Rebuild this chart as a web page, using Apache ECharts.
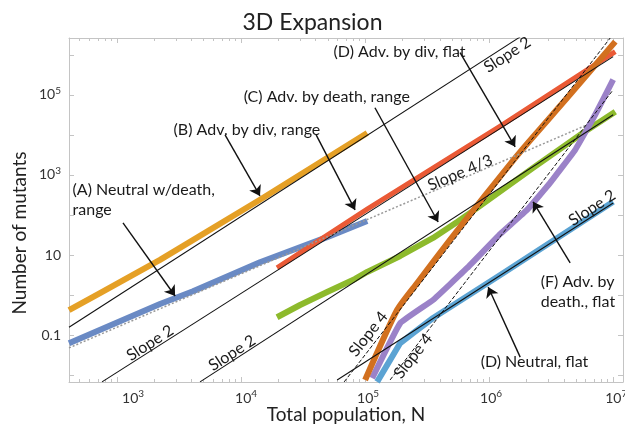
<!DOCTYPE html>
<html>
<head>
<meta charset="utf-8">
<script src="https://cdn.jsdelivr.net/npm/echarts@6/dist/echarts.min.js"></script>
<style>
  html, body { margin: 0; padding: 0; background: #fff; }
  #chart { width: 625px; height: 430px; }
</style>
</head>
<body>
<div id="chart"></div>
<script>
// Mutant counts vs. total population for 3D expansions (log-log)
const FONT = 'Lato, "Open Sans", sans-serif';

// Simulation curves: [total population N, number of mutants]
const advDivRange = [[410, 0.42], [729, 1.12], [2220, 7.6], [1.42e4, 240], [1.04e5, 1.12e4]];
const neutralDeathRange = [[410, 0.063], [2220, 0.6], [4100, 1.25], [1.42e4, 6.6], [4.94e4, 28], [1.04e5, 71]];
const advDivRange2 = [[1.95e4, 4.8], [1.04e5, 140], [1.23e6, 1.65e4], [1.04e7, 1.2e6]];
const advDeathRange = [[1.95e4, 0.28], [2.99e4, 0.566], [4.94e4, 1.2], [8.3e4, 2.53], [1.04e5, 3.78],
  [1.92e5, 9.5], [3.53e5, 26.8], [5.52e5, 67], [8.46e5, 169], [2.26e6, 1505], [5.73e6, 1.13e4], [1.04e7, 3.8e4]];
const advDivFlat = [[1.0e5, 0.0076], [1.81e5, 0.424], [2.63e5, 2.01], [4.84e5, 23.9], [8.95e5, 268],
  [1.78e6, 3780], [4.26e6, 8.46e4], [1.04e7, 2.13e6]];
const advDeathFlat = [[1.14e5, 0.00846], [1.92e5, 0.2], [3.53e5, 0.754], [6.65e5, 4.76], [1.23e6, 33.7],
  [2.02e6, 134], [3.10e6, 635], [4.94e6, 4240], [7.16e6, 3.18e4], [1.0e7, 2.39e5]];
const neutralFlat = [[1.25e5, 0.0068], [1.92e5, 0.0635], [2.44e5, 0.113], [3.53e5, 0.268], [1.23e6, 3.18], [1.0e7, 213]];

// Power-law guide lines (end points)
const slope2a = [[410, 0.158], [1.78e6, 2.8e6]];
const slope2b = [[757, 0.0068], [1.0e7, 9.0e5]];
const slope2c = [[4670, 0.0068], [1.0e7, 3.2e4]];
const slope2d = [[5.95e4, 0.0076], [1.0e7, 200]];
const slope43 = [[410, 0.048], [5.95e6, 1.7e4]];
const slope4a = [[6.78e4, 0.0068], [9.46e6, 2.63e6]];
const slope4b = [[1.59e5, 0.0076], [1.0e7, 1.34e5]];

// Axis ticks and labels
const xMajor = [1e3, 1e4, 1e5, 1e6, 1e7];
const xMajorExp = ['3', '4', '5', '6', '7'];
const yMajor = [0.01, 0.1, 1, 10, 1e2, 1e3, 1e4, 1e5, 1e6];
const yLabelValues = [0.1, 10, 1e3, 1e5];
const yLabelBase = ['0.1', '10', '10', '10'];
const yLabelExp = ['', '', '3', '5'];
const xMinor = [];
[100, 1e3, 1e4, 1e5, 1e6, 1e7].forEach(d => { for (let k = 2; k <= 9; k++) xMinor.push(d * k); });

// Annotation text: [N, mutants, text]
const notes = [
  [434, 424, '(A) Neutral w/death,'],
  [434, 134, 'range'],
  [2830, 1.34e4, '(B) Adv. by div, range'],
  [1.04e4, 8.97e4, '(C) Adv. by death, range'],
  [5.52e4, 1.2e6, '(D) Adv. by div, flat'],
  [2.58e6, 2.13, '(F) Adv. by'],
  [2.58e6, 0.672, 'death., flat'],
  [8.46e5, 0.0213, '(D) Neutral, flat']
];
// Guide-line captions: [N, mutants, text, rotation in degrees]
const slopeNotes = [
  [1.4e6, 1.0e6, 'Slope 2', 33],
  [5.83e5, 1128, 'Slope 4/3', 23],
  [1845, 0.0635, 'Slope 2', 33],
  [8460, 0.0357, 'Slope 2', 33],
  [1.06e5, 0.1066, 'Slope 4', 52],
  [2.44e5, 0.030, 'Slope 4', 52],
  [6.77e6, 150, 'Slope 2', 33]
];
// Arrows: [tail, head]
const arrows = [
  [[1117, 63.4], [2940, 0.95]],
  [[7430, 1.006e4], [1.42e4, 300]],
  [[4.03e4, 1.0e4], [8.3e4, 134]],
  [[1.2e5, 4.76e4], [3.88e5, 67]],
  [[5.83e5, 1.13e6], [1.62e6, 5040]],
  [[4.5e6, 6.35], [2.26e6, 213]],
  [[1.78e6, 0.0283], [9.82e5, 1.59]]
];

const X_MIN = 410, X_MAX = 1.2e7, Y_MIN = 0.00676, Y_MAX = 2.63e6;
const BORDER = '#c4c4c4';
const CLEAR = 'rgba(0,0,0,0)';
const INK = '#1a1a1a';
// horizontal nudge (px) of each x tick label
const xLabelNudge = [16, 5, 3, 2, 3];

function thick(name, data, color, width, smooth) {
  return { name, type: 'line', data, showSymbol: false, symbol: 'none', clip: true, z: 2,
    smooth: smooth || false,
    lineStyle: { color, width, cap: 'butt', join: 'round' }, emphasis: { disabled: true } };
}
function guide(name, data, type, color, width) {
  return { name, type: 'line', data, showSymbol: false, symbol: 'none', clip: true, z: 3,
    lineStyle: { color, width, type }, emphasis: { disabled: true } };
}

const supRich = {
  b: { fontSize: 14, color: '#333', fontFamily: FONT, lineHeight: 18 },
  s: { fontSize: 10, color: '#333', fontFamily: FONT, lineHeight: 10, verticalAlign: 'top' }
};
const xRich = Object.assign({}, supRich);
xLabelNudge.forEach((n, i) => {
  xRich['b' + i] = Object.assign({}, supRich.b, { padding: [0, 0, 0, 2 * n] });
});

const chart = echarts.init(document.getElementById('chart'), null, { renderer: 'canvas' });
const bare = { axisLine: { show: false }, splitLine: { show: false }, axisLabel: { show: false } };

chart.setOption({
  animation: false,
  backgroundColor: '#fff',
  title: { text: '3D Expansion', left: 'center', top: 6,
    textStyle: { fontFamily: FONT, fontSize: 23, fontWeight: 'normal', color: '#222' } },
  grid: { left: 69, right: 2, top: 38, bottom: 48, containLabel: false, outerBoundsMode: 'none' },
  xAxis: [
    { type: 'log', min: X_MIN, max: X_MAX, position: 'bottom',
      axisLine: { show: true, lineStyle: { color: BORDER, width: 1 } },
      axisTick: { show: true, inside: true, length: 5, customValues: xMajor, lineStyle: { color: BORDER } },
      axisLabel: { show: true, margin: 7, customValues: xMajor,
        formatter: v => { const i = xMajor.findIndex(t => Math.abs(t - v) / t < 1e-6);
          return '{b' + i + '|10}{s|' + xMajorExp[i] + '}'; },
        rich: xRich },
      splitLine: { show: false },
      name: 'Total population, N', nameLocation: 'middle', nameGap: 23, nameMoveOverlap: false,
      nameTextStyle: { fontFamily: FONT, fontSize: 19, color: '#222' } },
    Object.assign({ type: 'log', min: X_MIN, max: X_MAX, position: 'bottom',
      axisTick: { show: true, inside: true, length: 3, customValues: xMinor, lineStyle: { color: BORDER } } }, bare),
    { type: 'log', min: X_MIN, max: X_MAX, position: 'top',
      axisLine: { show: true, lineStyle: { color: BORDER } },
      axisTick: { show: true, inside: true, length: 5, customValues: xMajor, lineStyle: { color: BORDER } },
      axisLabel: { show: false }, splitLine: { show: false } },
    Object.assign({ type: 'log', min: X_MIN, max: X_MAX, position: 'top',
      axisTick: { show: true, inside: true, length: 3, customValues: xMinor, lineStyle: { color: BORDER } } }, bare)
  ],
  yAxis: [
    { type: 'log', min: Y_MIN, max: Y_MAX, position: 'left',
      axisLine: { show: true, lineStyle: { color: BORDER } },
      axisTick: { show: true, inside: true, length: 5, customValues: yMajor, lineStyle: { color: BORDER } },
      axisLabel: { show: true, margin: 8, customValues: yLabelValues,
        formatter: v => { const i = yLabelValues.findIndex(t => Math.abs(t - v) / t < 1e-6);
          return '{b|' + yLabelBase[i] + '}' + (yLabelExp[i] ? '{s|' + yLabelExp[i] + '}' : ''); },
        rich: supRich },
      splitLine: { show: false },
      name: 'Number of mutants', nameLocation: 'middle', nameGap: 40, nameMoveOverlap: false,
      nameTextStyle: { fontFamily: FONT, fontSize: 19, color: '#222', padding: [0, 46, 0, 0] } },
    { type: 'log', min: Y_MIN, max: Y_MAX, position: 'right',
      axisLine: { show: true, lineStyle: { color: BORDER } },
      axisTick: { show: true, inside: true, length: 5, customValues: yMajor, lineStyle: { color: BORDER } },
      axisLabel: { show: false }, splitLine: { show: false } }
  ],
  series: [
    thick('Adv. by div, range', advDivRange, '#E5A026', 6),
    thick('Neutral w/death, range', neutralDeathRange, '#6A8AC4', 6),
    thick('Adv. by div, range (late)', advDivRange2, '#EA5A36', 5),
    thick('Adv. by death, range', advDeathRange, '#8DBA2C', 6),
    thick('Adv. by death, flat', advDeathFlat, '#9B82C8', 6, 0.08),
    thick('Neutral, flat', neutralFlat, '#5BA3D3', 6),
    thick('Adv. by div, flat', advDivFlat, '#D2701F', 6, 0.2),
    guide('slope 2 a', slope2a, 'solid', '#111', 1.1),
    guide('slope 2 b', slope2b, 'solid', '#111', 1.1),
    guide('slope 2 c', slope2c, 'solid', '#111', 1.1),
    guide('slope 2 d', slope2d, 'solid', '#111', 1.1),
    guide('slope 4/3', slope43, [2, 2], '#999', 1.5),
    guide('slope 4 a', slope4a, [4, 2], '#111', 1),
    guide('slope 4 b', slope4b, [4, 2], '#111', 1),
    { name: 'notes', type: 'scatter', symbol: 'circle', symbolSize: 1, z: 5, silent: true,
      itemStyle: { color: CLEAR, opacity: 1 },
      data: notes.map(n => ({ value: [n[0], n[1]], label: { formatter: n[2] } })),
      label: { show: true, position: 'right', distance: 0, align: 'left', verticalAlign: 'middle',
        fontFamily: FONT, fontSize: 16, color: INK, opacity: 1 } },
    { name: 'slope labels', type: 'scatter', symbol: 'circle', symbolSize: 1, z: 5, silent: true,
      itemStyle: { color: CLEAR, opacity: 1 },
      data: slopeNotes.map(n => ({ value: [n[0], n[1]], label: { formatter: n[2], rotate: n[3] } })),
      label: { show: true, position: 'inside', align: 'center', verticalAlign: 'middle',
        fontFamily: FONT, fontSize: 16, color: INK, opacity: 1 } },
    { name: 'arrows', type: 'lines', coordinateSystem: 'cartesian2d', z: 6, silent: true,
      symbol: ['none', 'arrow'], symbolSize: 10,
      lineStyle: { color: '#111', width: 1.4, opacity: 1, curveness: 0 },
      data: arrows.map(a => ({ coords: [a[0], a[1]] })) }
  ]
});
</script>
</body>
</html>
